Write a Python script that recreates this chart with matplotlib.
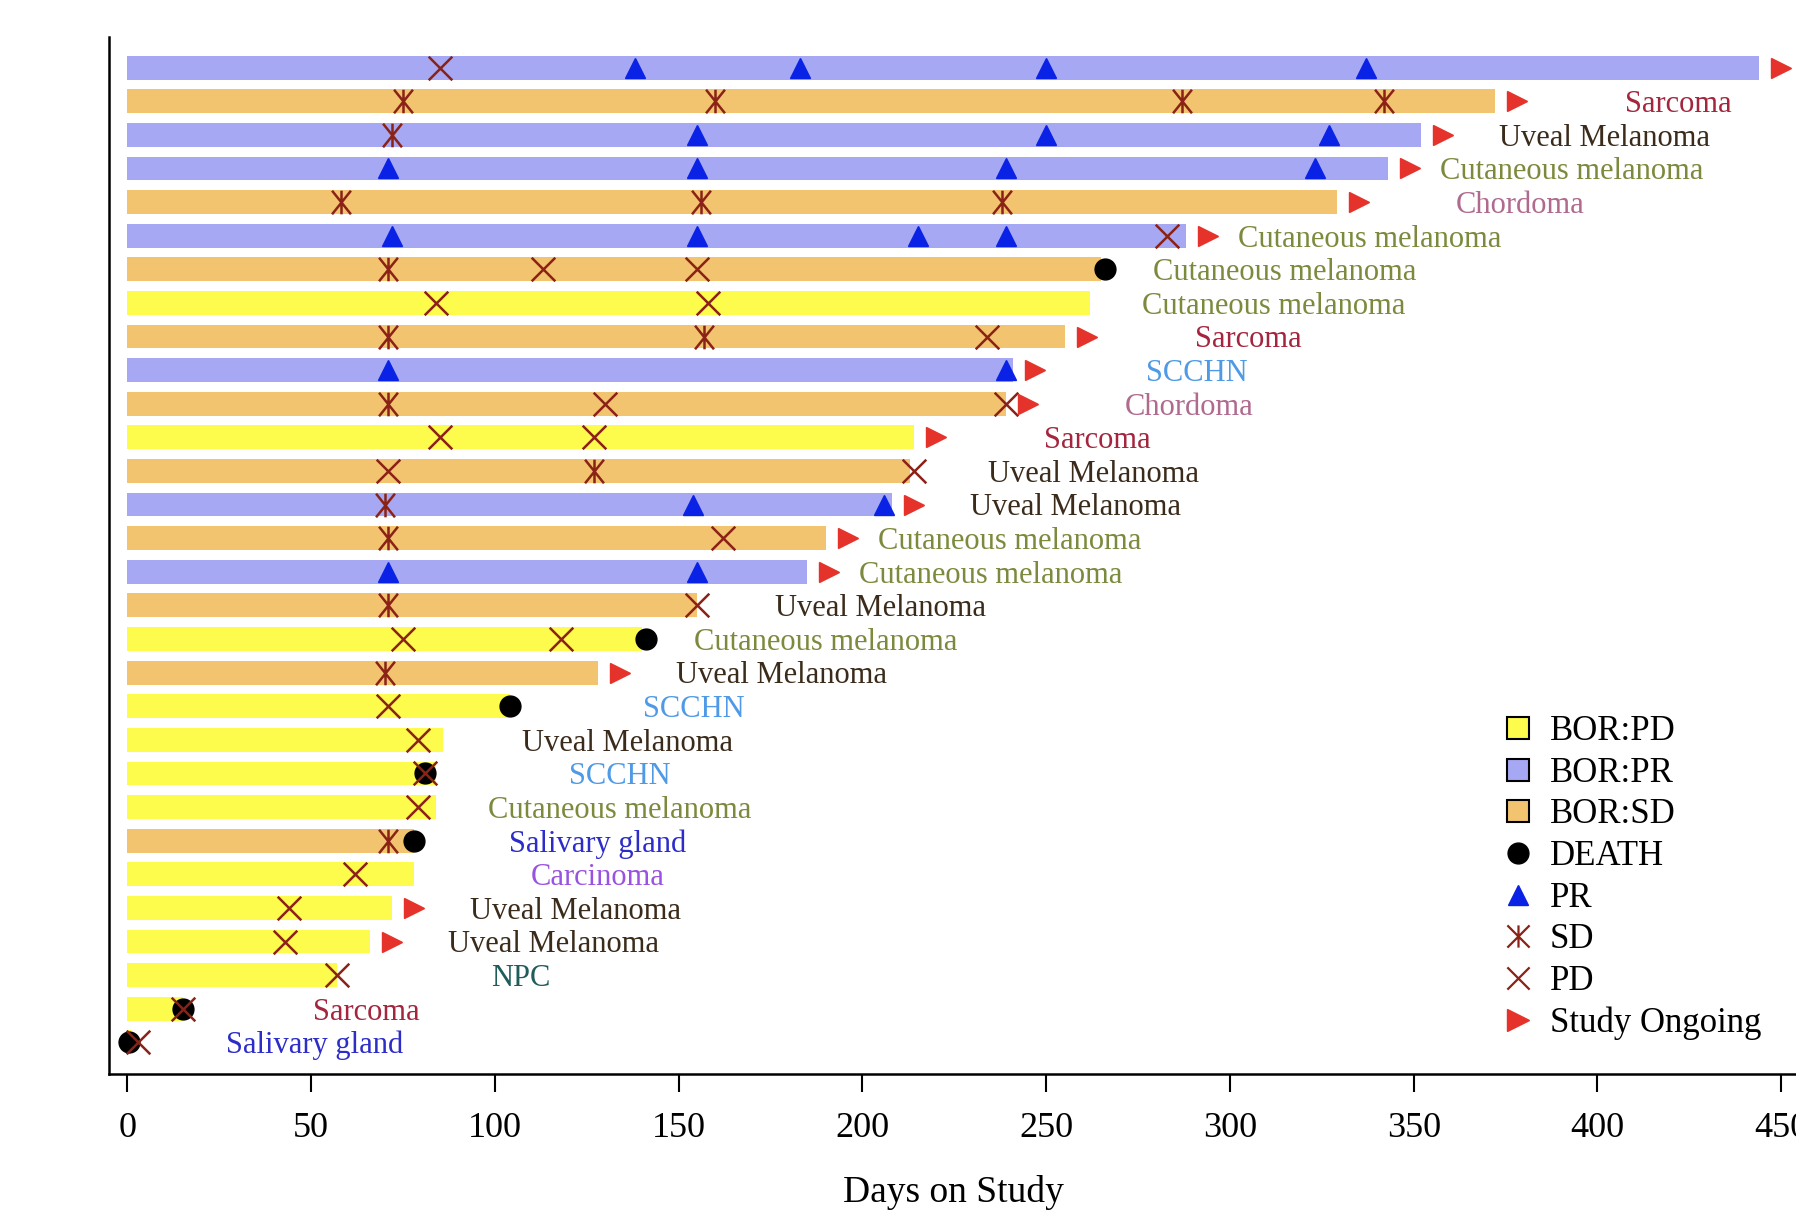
import matplotlib
matplotlib.use('Agg')
import matplotlib.pyplot as plt
from matplotlib.lines import Line2D
from matplotlib.path import Path
import numpy as np

plt.rcParams['font.family'] = ['Liberation Serif', 'DejaVu Serif']

# one entry per patient, top row first
bor = ['PR', 'SD', 'PR', 'PR', 'SD', 'PR', 'SD', 'PD', 'SD', 'PR',
       'SD', 'PD', 'SD', 'PR', 'SD', 'PR', 'SD', 'PD', 'SD', 'PD',
       'PD', 'PD', 'PD', 'SD', 'PD', 'PD', 'PD', 'PD', 'PD', 'PD']
days = [444, 372, 352, 343, 329, 288, 265, 262, 255, 241,
        239, 214, 213, 208, 190, 185, 155, 140, 128, 104,
        86, 84, 84, 78, 78, 72, 66, 57, 15, 1]
tumor = ['', 'Sarcoma', 'Uveal Melanoma', 'Cutaneous melanoma', 'Chordoma',
         'Cutaneous melanoma', 'Cutaneous melanoma', 'Cutaneous melanoma', 'Sarcoma', 'SCCHN',
         'Chordoma', 'Sarcoma', 'Uveal Melanoma', 'Uveal Melanoma', 'Cutaneous melanoma',
         'Cutaneous melanoma', 'Uveal Melanoma', 'Cutaneous melanoma', 'Uveal Melanoma', 'SCCHN',
         'Uveal Melanoma', 'SCCHN', 'Cutaneous melanoma', 'Salivary gland', 'Carcinoma',
         'Uveal Melanoma', 'Uveal Melanoma', 'NPC', 'Sarcoma', 'Salivary gland']
pr_days = [[138, 183, 250, 337], [], [155, 250, 327], [71, 155, 239, 323], [],
           [72, 155, 215, 239], [], [], [], [71, 239],
           [], [], [], [154, 206], [],
           [71, 155], [], [], [], [],
           [], [], [], [], [],
           [], [], [], [], []]
sd_days = [[], [75, 160, 287, 342], [72], [], [58, 156, 238],
           [], [71], [], [71, 157], [],
           [71], [], [127], [70], [71],
           [], [71], [], [70], [],
           [], [], [], [71], [],
           [], [], [], [], []]
pd_days = [[85], [], [], [], [],
           [283], [113, 155], [84, 158], [234], [],
           [130, 239], [85, 127], [71, 214], [], [162],
           [], [155], [75, 118], [], [71],
           [79], [81], [79], [], [62],
           [44], [43], [57], [15], [3]]
death_day = [np.nan, np.nan, np.nan, np.nan, np.nan,
             np.nan, 266, np.nan, np.nan, np.nan,
             np.nan, np.nan, np.nan, np.nan, np.nan,
             np.nan, np.nan, 141, np.nan, 104,
             np.nan, 81, np.nan, 78, np.nan,
             np.nan, np.nan, np.nan, 15, 0.5]
ongoing = [1, 1, 1, 1, 1, 1, 0, 0, 1, 1,
           1, 1, 0, 1, 1, 1, 0, 0, 1, 0,
           0, 0, 0, 0, 0, 1, 1, 0, 0, 0]

bar_colors = {'PD': '#fdfb4c', 'PR': '#a6a8f4', 'SD': '#f3c46f'}
label_colors = {'Sarcoma': '#a3263e', 'Uveal Melanoma': '#3b2b1a',
                'Cutaneous melanoma': '#7b8a3c', 'Chordoma': '#b06a8e',
                'SCCHN': '#4e9ae6', 'Salivary gland': '#2c2cc8',
                'Carcinoma': '#9a52e0', 'NPC': '#1f5c5a', '': 'black'}
mark_red = '#8b2216'
pr_blue = '#0a22e6'
arrow_red = '#e5322a'

pd_path = Path([(-1, -1), (1, 1), (-1, 1), (1, -1)],
               [Path.MOVETO, Path.LINETO, Path.MOVETO, Path.LINETO])
sd_path = Path([(-0.8, -1), (0.8, 1), (-0.8, 1), (0.8, -1), (0, -1), (0, 1)],
               [Path.MOVETO, Path.LINETO, Path.MOVETO, Path.LINETO,
                Path.MOVETO, Path.LINETO])

n = len(days)
ypos = np.arange(n, 0, -1)

fig = plt.figure(figsize=(17.96, 12.11), dpi=100)
ax = fig.add_axes([0.0607, 0.1128, 0.9403, 0.8569])

ax.barh(ypos, days, height=0.71, color=[bar_colors[b] for b in bor], zorder=1)

for i in range(n):
    y = ypos[i]
    if not np.isnan(death_day[i]):
        ax.plot(death_day[i], y, 'o', color='black', markersize=15, zorder=3)
    if pr_days[i]:
        ax.plot(pr_days[i], [y] * len(pr_days[i]), '^', color=pr_blue,
                markersize=14.5, linestyle='none', zorder=4)
    if sd_days[i]:
        ax.plot(sd_days[i], [y] * len(sd_days[i]), marker=sd_path, color=mark_red,
                markersize=17, markeredgewidth=1.8, markerfacecolor='none',
                linestyle='none', zorder=4)
    if pd_days[i]:
        ax.plot(pd_days[i], [y] * len(pd_days[i]), marker=pd_path, color=mark_red,
                markersize=17, markeredgewidth=1.8, markerfacecolor='none',
                linestyle='none', zorder=4)
    if ongoing[i]:
        ax.plot(days[i] + 6, y, '>', color=arrow_red, markersize=14.5, zorder=4)
    if tumor[i]:
        ax.text(days[i] + 50, y - 0.1, tumor[i], ha='center', va='center', fontsize=22,
                color=label_colors[tumor[i]])

ax.set_xlim(-5, 454.5)
ax.set_ylim(0.046, 30.92)
ax.set_xticks(range(0, 451, 50))
ax.set_yticks([])
ax.tick_params(axis='x', labelsize=26, length=13, width=1.5, pad=14)
for s in ['top', 'right']:
    ax.spines[s].set_visible(False)
ax.spines['left'].set_linewidth(1.8)
ax.spines['bottom'].set_linewidth(1.8)
ax.set_xlabel('Days on Study', fontsize=27, labelpad=22)

handles = [
    Line2D([], [], linestyle='none', marker='s', markersize=16, markerfacecolor=bar_colors['PD'],
           markeredgecolor='black', markeredgewidth=1.5, label='BOR:PD'),
    Line2D([], [], linestyle='none', marker='s', markersize=16, markerfacecolor=bar_colors['PR'],
           markeredgecolor='black', markeredgewidth=1.5, label='BOR:PR'),
    Line2D([], [], linestyle='none', marker='s', markersize=16, markerfacecolor=bar_colors['SD'],
           markeredgecolor='black', markeredgewidth=1.5, label='BOR:SD'),
    Line2D([], [], linestyle='none', marker='o', markersize=15, color='black', label='DEATH'),
    Line2D([], [], linestyle='none', marker='^', markersize=15, color=pr_blue, label='PR'),
    Line2D([], [], linestyle='none', marker=Path([(-1, -1), (1, 1), (-1, 1), (1, -1), (0, -1), (0, 1)],
           [1, 2, 1, 2, 1, 2]), markersize=16, markeredgewidth=1.6, markerfacecolor='none',
           color=mark_red, label='SD'),
    Line2D([], [], linestyle='none', marker=pd_path, markersize=16, markeredgewidth=1.6,
           markerfacecolor='none', color=mark_red, label='PD'),
    Line2D([], [], linestyle='none', marker='>', markersize=16, color=arrow_red, label='Study Ongoing'),
]
fig.legend(handles=handles, loc='upper left', bbox_to_anchor=(0.8357, 0.4096),
           frameon=False, fontsize=25, borderpad=0, borderaxespad=0,
           handlelength=1.0, handletextpad=0.4, labelspacing=0.25)

fig.savefig('out.png', dpi=100)
